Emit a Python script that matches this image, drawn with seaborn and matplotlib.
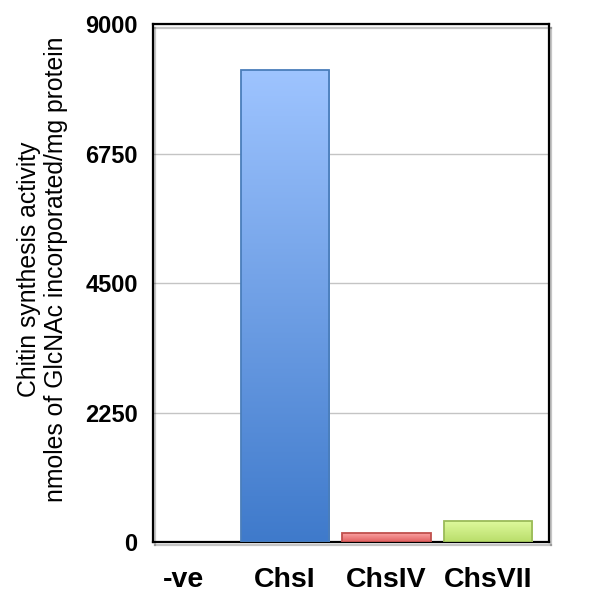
import numpy as np
import pandas as pd
import matplotlib
matplotlib.use("Agg")
import matplotlib.pyplot as plt
import matplotlib.patheffects as pe
from matplotlib.colors import LinearSegmentedColormap
import seaborn as sns

# data
samples = ["-ve", "ChsI", "ChsIV", "ChsVII"]
activity = [0, 8200, 150, 370]
y_ticks = [0, 2250, 4500, 6750, 9000]

# top / bottom colours of each bar's gradient, plus outline colour
grad_top = ["#ffffff", "#9ec4ff", "#fba3a3", "#e0fb9f"]
grad_bottom = ["#ffffff", "#3f7acb", "#e05f5f", "#b9dd6a"]
edge_cols = ["#4a7ebb", "#4a7ebb", "#c0504d", "#9bbb59"]

df = pd.DataFrame({"sample": samples, "activity": activity})

sns.set_theme(style="white")
plt.rcParams["font.family"] = ["Liberation Sans", "DejaVu Sans"]
plt.rcParams["text.color"] = "black"
plt.rcParams["xtick.color"] = "black"
plt.rcParams["ytick.color"] = "black"

fig = plt.figure(figsize=(5.94, 6.10), dpi=100)
ax = fig.add_axes([0.2576, 0.1115, 0.6667, 0.849])

sns.barplot(data=df, x="sample", y="activity", order=samples,
            width=0.87, color="white", ax=ax, zorder=3)

# swap the flat fill for a vertical gradient, clipped to each bar
for patch, top, bot, ec in zip(ax.patches, grad_top, grad_bottom, edge_cols):
    x0, y0 = patch.get_x(), patch.get_y()
    w, h = patch.get_width(), patch.get_height()
    patch.set_facecolor("none")
    patch.set_edgecolor(ec)
    patch.set_linewidth(1.3)
    patch.set_zorder(4)
    if h <= 0:
        patch.set_visible(False)
        continue
    cmap = LinearSegmentedColormap.from_list("g", [bot, top])
    grad = np.linspace(0, 1, 256).reshape(-1, 1)
    im = ax.imshow(grad, extent=[x0, x0 + w, y0, y0 + h], origin="lower",
                   aspect="auto", cmap=cmap, zorder=3)
    im.set_clip_path(patch)

ax.set_xlim(-0.30, 3.60)
ax.set_ylim(0, 9000)
ax.set_yticks(y_ticks)
ax.set_yticklabels([str(t) for t in y_ticks], fontsize=17, fontweight="bold",
                   color="black")
ax.set_xticks(range(len(samples)))
ax.set_xticklabels(samples, fontsize=20.5, fontweight="bold", color="black")
ax.tick_params(axis="y", length=0, pad=11)
ax.tick_params(axis="x", length=0, pad=18)
ax.set_xlabel("")
ax.set_ylabel("")

ax.grid(axis="y", color="#c4c4c4", linewidth=1, zorder=0)
ax.set_axisbelow(True)

for s in ax.spines.values():
    s.set_visible(True)
    s.set_color("black")
    s.set_linewidth(1.6)
    s.set_path_effects([pe.SimpleLineShadow(offset=(1.5, -2.5), alpha=0.25),
                        pe.Normal()])

fig.text(0.072, 1 - 269 / 610,
         "Chitin synthesis activity\nnmoles of GlcNAc incorporated/mg protein",
         rotation=90, ha="center", va="center", multialignment="center",
         fontsize=17.8, linespacing=1.15, color="black")

fig.savefig("out.png", dpi=100, facecolor="white")
